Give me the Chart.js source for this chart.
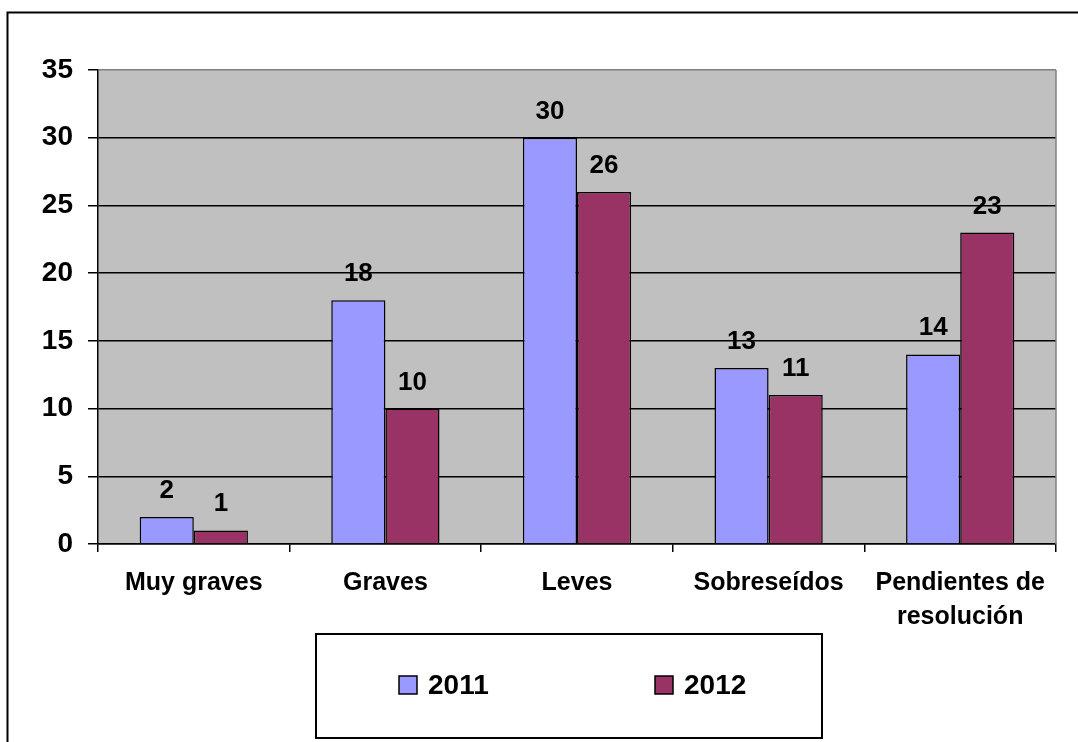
<!DOCTYPE html>
<html>
<head>
<meta charset="utf-8">
<title>Sanciones 2011 - 2012</title>
<script src="https://cdn.jsdelivr.net/npm/chart.js@4.4.1/dist/chart.umd.min.js"></script>
<style>
  html, body { margin: 0; padding: 0; background: #fff; overflow: hidden; }
  #wrap { position: relative; width: 1078px; height: 742px; }
</style>
</head>
<body>
<div id="wrap"><canvas id="chart"></canvas></div>
<script>
// Data
const categories = ['Muy graves', 'Graves', 'Leves', 'Sobreseídos', ['Pendientes de', 'resolución']];
const seriesNames = ['2011', '2012'];
const values2011 = [2, 18, 30, 13, 14];
const values2012 = [1, 10, 26, 11, 23];
const yMin = 0;
const yMax = 35;
const yStep = 5;

const FONT = "'Liberation Sans', Arial, sans-serif";

// Gray plot background, outer frame
const framePlugin = {
    id: 'frame',
    beforeDraw(chart) {
        const { ctx, chartArea: a } = chart;
        ctx.save();
        ctx.fillStyle = '#fff';
        ctx.fillRect(0, 0, chart.width, chart.height);
        ctx.strokeStyle = '#000';
        ctx.lineWidth = 2;
        ctx.strokeRect(7.5, 12.5, chart.width + 20, chart.height + 20);
        ctx.fillStyle = '#c0c0c0';
        ctx.fillRect(a.left, a.top, a.right - a.left, a.bottom - a.top);
        ctx.restore();
    },
    afterDraw(chart) {
        const { ctx, chartArea: a } = chart;
        ctx.save();
        ctx.strokeStyle = '#808080';
        ctx.lineWidth = 1.5;
        ctx.beginPath();
        ctx.moveTo(a.right, a.top);
        ctx.lineTo(a.right, a.bottom);
        ctx.stroke();
        ctx.restore();
    }
};

// Value labels above each bar
const valueLabels = {
    id: 'valueLabels',
    afterDatasetsDraw(chart) {
        const { ctx } = chart;
        ctx.save();
        ctx.font = 'bold 26px ' + FONT;
        ctx.fillStyle = '#000';
        ctx.textAlign = 'center';
        ctx.textBaseline = 'alphabetic';
        chart.data.datasets.forEach((ds, i) => {
            chart.getDatasetMeta(i).data.forEach((bar, j) => {
                ctx.fillText(String(ds.data[j]), bar.x, bar.y - 19);
            });
        });
        ctx.restore();
    }
};

// Boxed legend below the axis
const boxLegend = {
    id: 'boxLegend',
    afterDraw(chart) {
        const { ctx } = chart;
        const itemX = [399, 655];
        const cy = 685;
        ctx.save();
        ctx.strokeStyle = '#000';
        ctx.lineWidth = 2;
        ctx.strokeRect(316, 634, 506, 104);
        ctx.font = 'bold 28px ' + FONT;
        ctx.textBaseline = 'middle';
        ctx.textAlign = 'left';
        chart.data.datasets.forEach((ds, i) => {
            const x = itemX[i];
            ctx.fillStyle = ds.backgroundColor;
            ctx.fillRect(x, cy - 9, 18, 18);
            ctx.lineWidth = 1.5;
            ctx.strokeRect(x, cy - 9, 18, 18);
            ctx.fillStyle = '#000';
            ctx.fillText(ds.label, x + 29, cy + 1);
        });
        ctx.restore();
    }
};

document.addEventListener('DOMContentLoaded', function () {
    const ctx = document.getElementById('chart').getContext('2d');

    new Chart(ctx, {
        type: 'bar',
        data: {
            labels: categories,
            datasets: [{
                label: seriesNames[0],
                data: values2011,
                backgroundColor: '#9999ff',
                borderColor: '#000',
                borderWidth: 1.5,
            }, {
                label: seriesNames[1],
                data: values2012,
                backgroundColor: '#993366',
                borderColor: '#000',
                borderWidth: 1.5,
            }]
        },
        options: {
            responsive: true,
            maintainAspectRatio: false,
            animation: false,
            devicePixelRatio: 1,
            layout: { padding: { top: 70, right: 22, left: 0, bottom: 0 } },
            datasets: {
                bar: { categoryPercentage: 0.565, barPercentage: 1.0 }
            },
            plugins: {
                legend: { display: false },
                title: { display: false },
                tooltip: { enabled: false },
            },
            scales: {
                x: {
                    afterFit(scale) { scale.height = 198; },
                    grid: {
                        display: true,
                        drawOnChartArea: false,
                        drawTicks: true,
                        tickLength: 8,
                        color: '#000',
                        lineWidth: 1.5,
                    },
                    border: { display: true, color: '#000', width: 1.5 },
                    ticks: {
                        color: '#000',
                        padding: 14,
                        maxRotation: 0,
                        autoSkip: false,
                        font: { family: FONT, size: 25, weight: 'bold', lineHeight: 1.36 },
                    }
                },
                y: {
                    min: yMin,
                    max: yMax,
                    afterFit(scale) { scale.width = 98; },
                    grid: {
                        color: (c) => (c.tick && c.tick.value === yMax ? '#808080' : '#000'),
                        tickColor: '#000',
                        lineWidth: 1.5,
                        tickLength: 10,
                    },
                    border: { display: true, color: '#000', width: 1.5 },
                    ticks: {
                        stepSize: yStep,
                        color: '#000',
                        padding: 15,
                        font: { family: FONT, size: 28, weight: 'bold' },
                    }
                }
            }
        },
        plugins: [framePlugin, valueLabels, boxLegend]
    });
});
</script>
</body>
</html>
